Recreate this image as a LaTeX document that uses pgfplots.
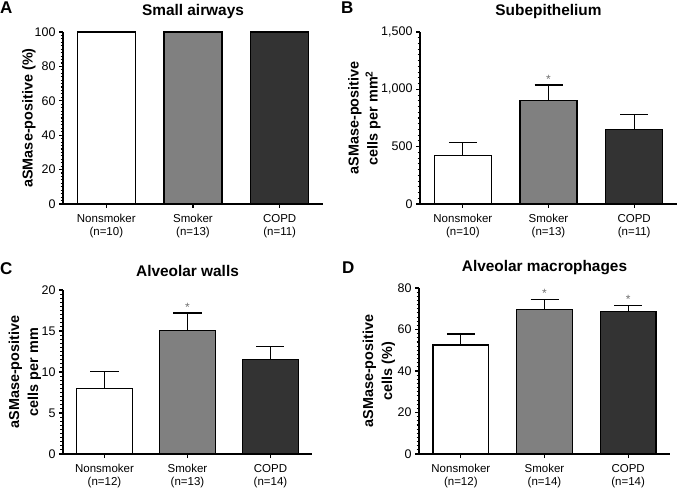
\documentclass[border=0pt]{standalone}
\usepackage{pgfplots}
\pgfplotsset{compat=1.18}
\usepackage{fontspec}
\setmainfont{Liberation Sans}
\definecolor{midgray}{HTML}{808080}
\definecolor{darkgray}{HTML}{333333}
\definecolor{astgray}{HTML}{707070}

\pgfplotsset{
  panel/.style={
    scale only axis,
    clip=false,
    axis x line*=bottom, axis y line*=left,
    axis line style={line width=1.3bp, black, -},
    xmin=-0.5, xmax=2.5, ymin=0,
    enlargelimits=false,
    xtick={0,1,2},
    tick align=outside,
    tick style={black, line width=1.1bp},
    major tick length=4bp,
    minor tick length=2.5bp,
    minor y tick num=9,
    scaled y ticks=false,
    /pgf/number format/assume math mode=true,
    /pgf/number format/1000 sep={,},
    yticklabel style={font=\fontsize{12.5bp}{14bp}\selectfont},
    xticklabel style={font=\fontsize{11.5bp}{13.5bp}\selectfont, align=center, yshift=-2.5bp},
    title style={font=\fontsize{15.4bp}{18bp}\selectfont\bfseries, yshift=4bp},
  },
  ylab/.style={ylabel style={font=\fontsize{14.4bp}{19bp}\selectfont\bfseries, align=center,
    at={(axis description cs:0,0.5)}, anchor=center, yshift=#1}},
  bar/.style={ybar, bar width=0.667, bar shift=0pt, draw=black, line width=1.3bp,
    error bars/y dir=plus, error bars/y explicit,
    error bars/error bar style={line width=1.3bp, black},
    error bars/error mark=-,
    error bars/error mark options={rotate=90, line width=1.3bp, black, mark size=14bp}},
}
\newcommand\sigmark[1]{\node[inner sep=0pt, anchor=south, yshift=1.5bp, text=astgray, font=\fontsize{12bp}{12bp}\selectfont] at #1 {*};}

\begin{document}
\begin{tikzpicture}
\useasboundingbox (0bp,0bp) rectangle (678bp,488bp);

% Panel letters
\node[anchor=north west, inner sep=0pt, font=\fontsize{17bp}{17bp}\selectfont\bfseries] at (0bp,486bp) {A};
\node[anchor=north west, inner sep=0pt, font=\fontsize{17bp}{17bp}\selectfont\bfseries] at (341bp,486bp) {B};
\node[anchor=north west, inner sep=0pt, font=\fontsize{17bp}{17bp}\selectfont\bfseries] at (0bp,226bp) {C};
\node[anchor=north west, inner sep=0pt, font=\fontsize{17bp}{17bp}\selectfont\bfseries] at (342bp,226bp) {D};

% A
\begin{axis}[panel, ylab=34bp, at={(63bp,284bp)}, anchor=south west, width=260bp, height=172bp,
  ymax=100, ytick={0,20,40,60,80,100},
  xticklabels={Nonsmoker\\(n=10), Smoker\\(n=13), COPD\\(n=11)},
  ylabel={aSMase-positive (\%)}, title={Small airways}]
\addplot[ybar, bar width=0.667, bar shift=0pt, draw=black, line width=1.3bp, fill=white] coordinates {(0,100)};
\addplot[ybar, bar width=0.667, bar shift=0pt, draw=black, line width=1.3bp, fill=midgray] coordinates {(1,100)};
\addplot[ybar, bar width=0.667, bar shift=0pt, draw=black, line width=1.3bp, fill=darkgray] coordinates {(2,100)};
\end{axis}

% B
\begin{axis}[panel, ylab=55.5bp, at={(420bp,284bp)}, anchor=south west, width=257bp, height=172bp,
  ymax=1500, ytick={0,500,1000,1500},
  xticklabels={Nonsmoker\\(n=10), Smoker\\(n=13), COPD\\(n=11)},
  ylabel={aSMase-positive\\cells per mm\textsuperscript{2}}, title={Subepithelium}]
\addplot[bar, fill=white] coordinates {(0,422) +- (0,117)};
\addplot[bar, fill=midgray] coordinates {(1,905) +- (0,132)};
\addplot[bar, fill=darkgray] coordinates {(2,650) +- (0,132)};
\sigmark{(axis cs:1,1037)}
\end{axis}

% C
\begin{axis}[panel, ylab=38bp, at={(63bp,34bp)}, anchor=south west, width=249bp, height=164bp,
  ymax=20, ytick={0,5,10,15,20},
  xticklabels={Nonsmoker\\(n=12), Smoker\\(n=13), COPD\\(n=14)},
  ylabel={aSMase-positive\\cells per mm}, title={Alveolar walls}]
\addplot[bar, fill=white] coordinates {(0,8.0) +- (0,2.05)};
\addplot[bar, fill=midgray] coordinates {(1,15.1) +- (0,2.1)};
\addplot[bar, fill=darkgray] coordinates {(2,11.55) +- (0,1.55)};
\sigmark{(axis cs:1,17.2)}
\end{axis}

% D
\begin{axis}[panel, ylab=40bp, at={(419bp,34bp)}, anchor=south west, width=251bp, height=166bp,
  ymax=80, ytick={0,20,40,60,80},
  xticklabels={Nonsmoker\\(n=12), Smoker\\(n=14), COPD\\(n=14)},
  ylabel={aSMase-positive\\cells (\%)}, title={Alveolar macrophages}]
\addplot[bar, fill=white] coordinates {(0,52.5) +- (0,5.3)};
\addplot[bar, fill=midgray] coordinates {(1,69.6) +- (0,4.9)};
\addplot[bar, fill=darkgray] coordinates {(2,68.6) +- (0,3.0)};
\sigmark{(axis cs:1,74.5)}
\sigmark{(axis cs:2,71.6)}
\end{axis}
\end{tikzpicture}
\end{document}
